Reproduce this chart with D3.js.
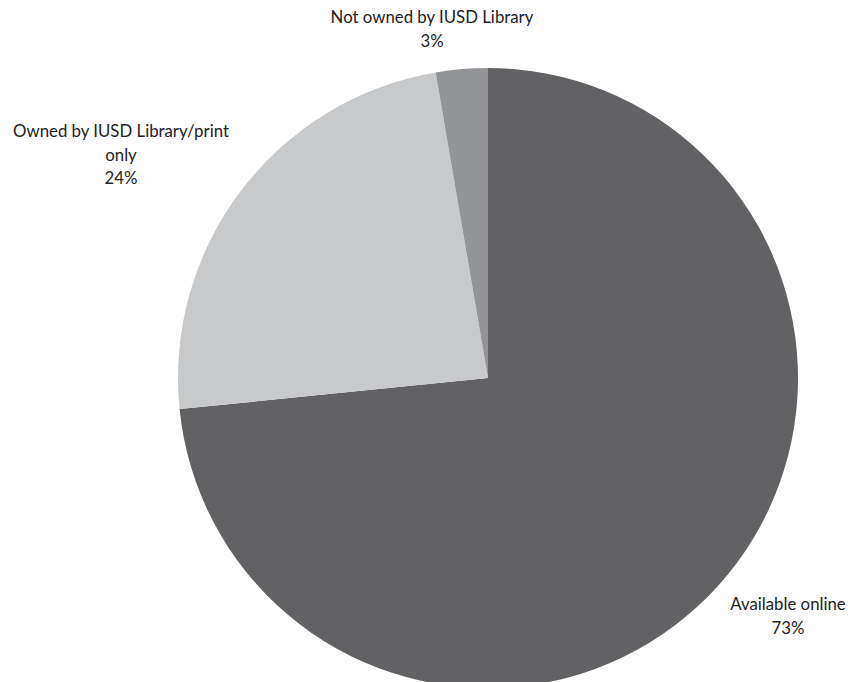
<!DOCTYPE html>
<html>
<head>
<script src="https://d3js.org/d3.v7.min.js"></script>
<style>
  body { margin: 0; background: #fff; }
  text { font-family: Lato, "Open Sans", sans-serif; font-size: 16.8px; fill: #222; }
</style>
</head>
<body>
<svg width="848" height="682"></svg>
<script>
  // slice data, clockwise from 12 o'clock
  const categories = ["Available online", "Owned by IUSD Library/print only", "Not owned by IUSD Library"];
  const values = [73.4, 23.9, 2.7];
  const colors = ["#626163", "#c8c9cb", "#939497"];
  // label text lines and anchor spots
  const labelLines = [["Available online", "73%"], ["Owned by IUSD Library/print", "only", "24%"], ["Not owned by IUSD Library", "3%"]];
  const labelPos = [[788, 610], [121, 137], [432, 23]];

  const svg = d3.select("svg");
  const cx = 488, cy = 378, r = 310;

  const data = categories.map((c, i) => ({ name: c, value: values[i] }));
  const pie = d3.pie().sort(null).value(d => d.value);
  const arc = d3.arc().innerRadius(0).outerRadius(r);

  const g = svg.append("g").attr("transform", "translate(" + cx + "," + cy + ")");
  g.selectAll("path")
    .data(pie(data))
    .enter().append("path")
    .attr("d", arc)
    .attr("fill", (d, i) => colors[i]);

  labelLines.forEach((lines, i) => {
    const t = svg.append("text")
      .attr("x", labelPos[i][0])
      .attr("y", labelPos[i][1])
      .attr("text-anchor", "middle");
    lines.forEach((ln, j) => {
      t.append("tspan").attr("x", labelPos[i][0]).attr("dy", j == 0 ? 0 : 23.5).text(ln);
    });
  });
</script>
</body>
</html>
